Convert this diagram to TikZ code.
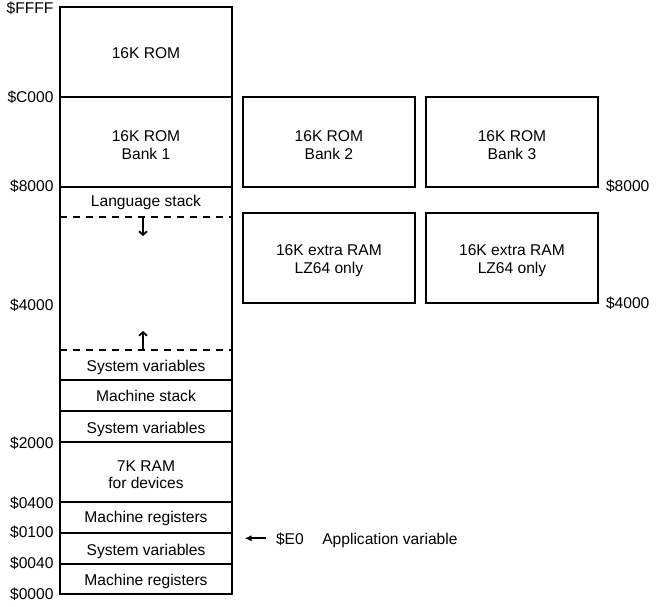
\documentclass[tikz,border=0pt]{standalone}
\usepackage{fontspec}
\setmainfont{Liberation Sans}
\usetikzlibrary{arrows.meta}
\begin{document}
\begin{tikzpicture}[x=1pt,y=-1pt,
  every node/.style={font=\fontsize{15.6}{17.6}\selectfont, inner sep=0pt, outer sep=0pt},
  cell/.style={draw, line width=2pt, minimum width=172.3pt},
  area/.style={minimum width=172.3pt},
  txt/.style={anchor=center, text height=11.1pt, text depth=0pt},
  txttwo/.style={anchor=center, align=center},
  lbl/.style={anchor=base east},
  rlbl/.style={anchor=base west},
  edge line/.style={line width=2pt},
  dash line/.style={line width=2pt, dash pattern=on 7pt off 6pt},
  growarrow/.style={line width=1.8pt, -{Straight Barb[length=3.5pt,width=8pt]}},
  pointer/.style={line width=1.8pt, -{Latex[length=7pt,width=6pt]}}
]
\useasboundingbox (0,0) rectangle (656,606);

% ---------- main column ----------
\node[cell, minimum height=90pt] (romtop) at (146,52) {};
\node[cell, minimum height=90pt] (rom1) at (146,142) {};
\node[area, minimum height=30pt] (lang) at (146,202) {};
\node[area, minimum height=133pt] (free) at (146,283.5) {};
\node[area, minimum height=30pt] (sv3) at (146,365) {};
\node[cell, minimum height=31pt] (mstack) at (146,395.5) {};
\node[cell, minimum height=31pt] (sv2) at (146,426.5) {};
\node[cell, minimum height=60pt] (ram7) at (146,472) {};
\node[cell, minimum height=31pt] (mreg2) at (146,517.5) {};
\node[cell, minimum height=31pt] (sv1) at (146,548.5) {};
\node[cell, minimum height=30pt] (mreg1) at (146,579) {};

% stack region outline
\draw[edge line] (lang.north west) -- (sv3.south west);
\draw[edge line] (lang.north east) -- (sv3.south east);
\draw[dash line] (lang.south west) -- (lang.south east);
\draw[dash line] (sv3.north west) -- (sv3.north east);

% growth arrows
\coordinate (dntip) at (143,236);
\coordinate (uptip) at (143,331);
\draw[growarrow] (lang.south -| dntip) -- (dntip);
\draw[growarrow] (sv3.north -| uptip) -- (uptip);

% texts in main column
\node[txt] (romtopt) at (146,53.3) {16K ROM};
\node[txttwo] (rom1t) at (146,145) {16K ROM\\Bank 1};
\node[txt] (langt) at (146,201.2) {Language stack};
\node[txt] (sv3t) at (146,365.8) {System variables};
\node[txt] (mstackt) at (146,396.2) {Machine stack};
\node[txt] (sv2t) at (146,428.3) {System variables};
\node[txttwo] (ram7t) at (146,474.5) {7K RAM\\for devices};
\node[txt] (mreg2t) at (146,517.2) {Machine registers};
\node[txt] (sv1t) at (146,549.5) {System variables};
\node[txt] (mreg1t) at (146,579.5) {Machine registers};

% ---------- banks ----------
\node[cell, minimum height=90pt] (bank2) at (328.9,141.7) {};
\node[cell, minimum height=90pt] (bank3) at (512,141.7) {};
\node[cell, minimum height=90pt] (xram2) at (328.9,257.7) {};
\node[cell, minimum height=90pt] (xram3) at (512,257.7) {};
\node[txttwo] (bank2t) at (328.9,145) {16K ROM\\Bank 2};
\node[txttwo] (bank3t) at (512,145) {16K ROM\\Bank 3};
\node[txttwo] (xram2t) at (328.9,260.4) {16K extra RAM\\LZ64 only};
\node[txttwo] (xram3t) at (512,260.4) {16K extra RAM\\LZ64 only};

% ---------- address labels ----------
\node[lbl] (aFFFF) at (53.5,13.5) {\$FFFF};
\node[lbl] (aC000) at (53.5,102.2) {\$C000};
\node[lbl] (a8000) at (53.5,191.5) {\$8000};
\node[lbl] (a4000) at (53.5,310) {\$4000};
\node[lbl] (a2000) at (53.5,448) {\$2000};
\node[lbl] (a0400) at (53.5,508) {\$0400};
\node[lbl] (a0100) at (53.5,537.5) {\$0100};
\node[lbl] (a0040) at (53.5,568.5) {\$0040};
\node[lbl] (a0000) at (53.5,599.5) {\$0000};
\node[rlbl] (r8000) at (606,191.7) {\$8000};
\node[rlbl] (r4000) at (606,308) {\$4000};

% ---------- application variable pointer ----------
\node[rlbl] (e0) at (276,544.3) {\$E0};
\node[rlbl] (appvar) at (322.3,544.3) {Application variable};
\coordinate (ptail) at (266,538.3);
\coordinate (ptip) at (244.5,538.3);
\draw[pointer] (ptail) -- (ptip);
\end{tikzpicture}
\end{document}
